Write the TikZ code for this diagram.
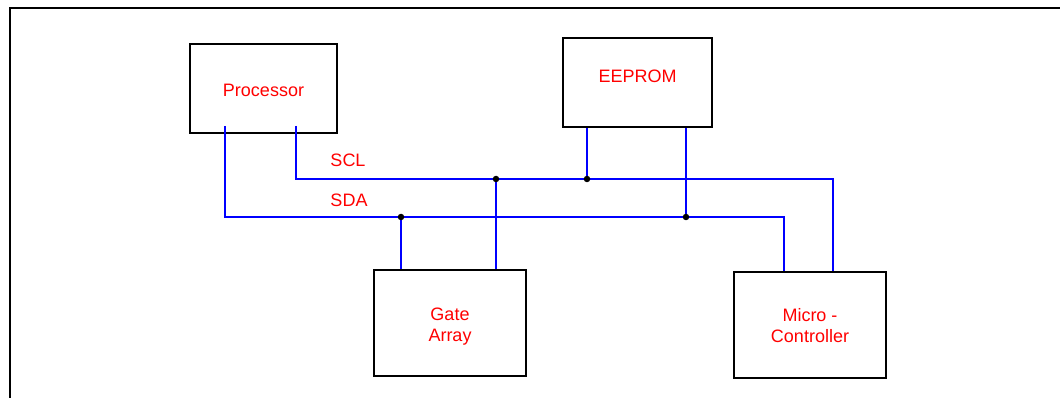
\documentclass[tikz,border=0pt]{standalone}
\usepackage{fontspec}
\setmainfont{Liberation Sans}
\begin{document}
\begin{tikzpicture}[x=1pt,y=-1pt,
  unit/.style={draw,line width=1.8pt,minimum width=149pt,minimum height=89pt,inner sep=0pt},
  tall/.style={minimum width=152pt,minimum height=106pt},
  lbl/.style={text=red,font=\fontsize{18}{21}\selectfont,align=center,inner sep=0pt},
  bus/.style={draw=blue,line width=1.7pt},
  dot/.style={circle,fill=black,inner sep=0pt,minimum size=6.5pt}]
  \useasboundingbox (0,0) rectangle (1060,398);
  % frame
  \draw[line width=2pt] (10,398) -- (10,8) -- (1060,8);
  % chips
  \node[unit,minimum width=147pt] (proc) at (263.5,88.5) {};
  \node[unit] (eeprom) at (637.5,82.5) {};
  \node[unit,tall] (gate) at (450,323) {};
  \node[unit,tall] (micro) at (810,325) {};
  \node[lbl] (proctxt) at ([yshift=-2pt]proc.center) {Processor};
  \node[lbl] (eetxt) at ([yshift=6pt]eeprom.center) {EEPROM};
  \node[lbl] (gatetxt) at ([yshift=-3.5pt]gate.center) {Gate\\Array};
  \node[lbl] (microtxt) at ([yshift=-1pt]micro.center) {Micro -\\Controller};
  % pins
  \coordinate (sda) at (0,217);
  \coordinate (scl) at (0,179);
  \coordinate (pd) at ([xshift=-38.5pt,yshift=8pt]proc.south);
  \coordinate (pc) at ([xshift=32.5pt,yshift=8pt]proc.south);
  \coordinate (ec) at ([xshift=-50.5pt]eeprom.south);
  \coordinate (ed) at ([xshift=48.5pt]eeprom.south);
  \coordinate (gd) at ([xshift=-49pt]gate.north);
  \coordinate (gc) at ([xshift=46pt]gate.north);
  \coordinate (md) at ([xshift=-26pt]micro.north);
  \coordinate (mc) at ([xshift=23pt]micro.north);
  % bus
  \draw[bus] (pc) |- (mc |- scl) -- (mc);
  \draw[bus] (pd) |- (md |- sda) -- (md);
  \draw[bus] (ec) -- (ec |- scl);
  \draw[bus] (ed) -- (ed |- sda);
  \draw[bus] (gc |- scl) -- (gc);
  \draw[bus] (gd |- sda) -- (gd);
  \node[dot] (j1) at (gc |- scl) {};
  \node[dot] (j2) at (ec |- scl) {};
  \node[dot] (j3) at (gd |- sda) {};
  \node[dot] (j4) at (ed |- sda) {};
  \node[lbl] (scltxt) at (348,160) {SCL};
  \node[lbl] (sdatxt) at (349,200) {SDA};
\end{tikzpicture}
\end{document}
